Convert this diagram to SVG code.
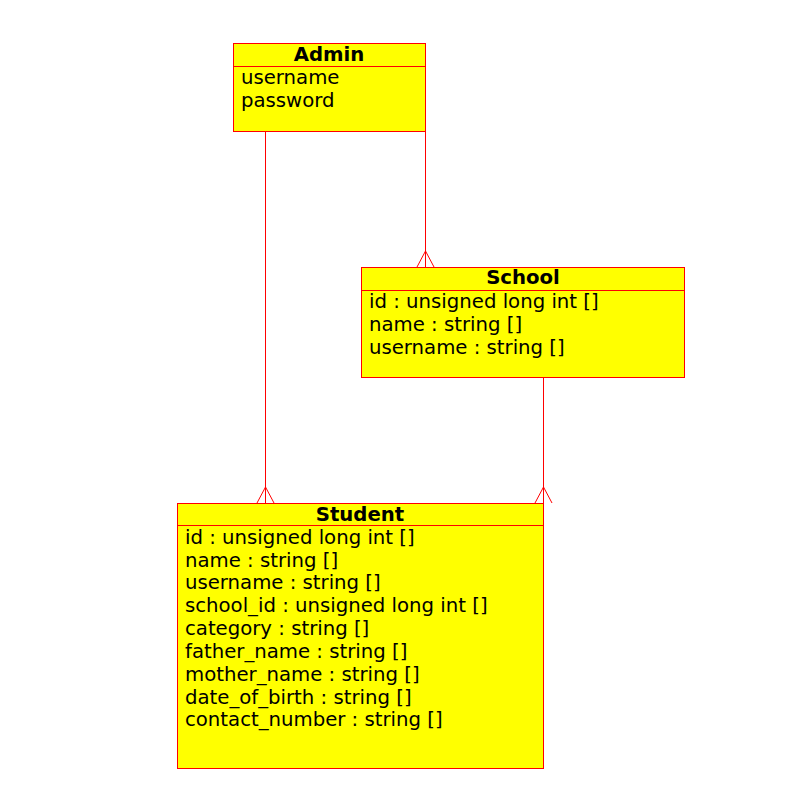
<svg xmlns="http://www.w3.org/2000/svg" width="791" height="804" viewBox="0 0 791 804">
<style>
.box{fill:#ffff00;stroke:#ff0000;stroke-width:1}
.sep{stroke:#ff0000;stroke-width:1}
.t{font-family:"DejaVu Sans",sans-serif;font-size:19.7px;fill:#000}
.h{font-family:"DejaVu Sans",sans-serif;font-size:19.7px;font-weight:bold;fill:#000;text-anchor:middle}
.c{stroke:#ff0000;stroke-width:1;fill:none}
</style>
<rect width="791" height="804" fill="#fff"/>
<g id="connectors">
<path class="c" d="M265.5,131 V503 M257,503 L265.5,487 L274,503"/>
<path class="c" d="M425.5,131 V267 M417,267 L425.5,251 L434,267"/>
<path class="c" d="M543.5,377 V503 M535,503 L543.5,487 L552,503"/>
</g>
<g id="admin">
<rect class="box" x="233.5" y="43.5" width="192" height="88"/>
<line class="sep" x1="233.5" y1="66.5" x2="425.5" y2="66.5"/>
<text class="h" x="329" y="61">Admin</text>
<text class="t" x="241" y="84">username</text>
<text class="t" x="241" y="107">password</text>
</g>
<g id="school">
<rect class="box" x="361.5" y="267.5" width="323" height="110"/>
<line class="sep" x1="361.5" y1="290.5" x2="684.5" y2="290.5"/>
<text class="h" x="523" y="284">School</text>
<text class="t" x="369" y="308">id : unsigned long int []</text>
<text class="t" x="369" y="331">name : string []</text>
<text class="t" x="369" y="354">username : string []</text>
</g>
<g id="student">
<rect class="box" x="177.5" y="503.5" width="366" height="265"/>
<line class="sep" x1="177.5" y1="525.5" x2="543.5" y2="525.5"/>
<text class="h" x="360" y="521">Student</text>
<text class="t" x="185" y="544">id : unsigned long int []</text>
<text class="t" x="185" y="567">name : string []</text>
<text class="t" x="185" y="589">username : string []</text>
<text class="t" x="185" y="612">school_id : unsigned long int []</text>
<text class="t" x="185" y="635">category : string []</text>
<text class="t" x="185" y="658">father_name : string []</text>
<text class="t" x="185" y="681">mother_name : string []</text>
<text class="t" x="185" y="704">date_of_birth : string []</text>
<text class="t" x="185" y="726">contact_number : string []</text>
</g>
</svg>
